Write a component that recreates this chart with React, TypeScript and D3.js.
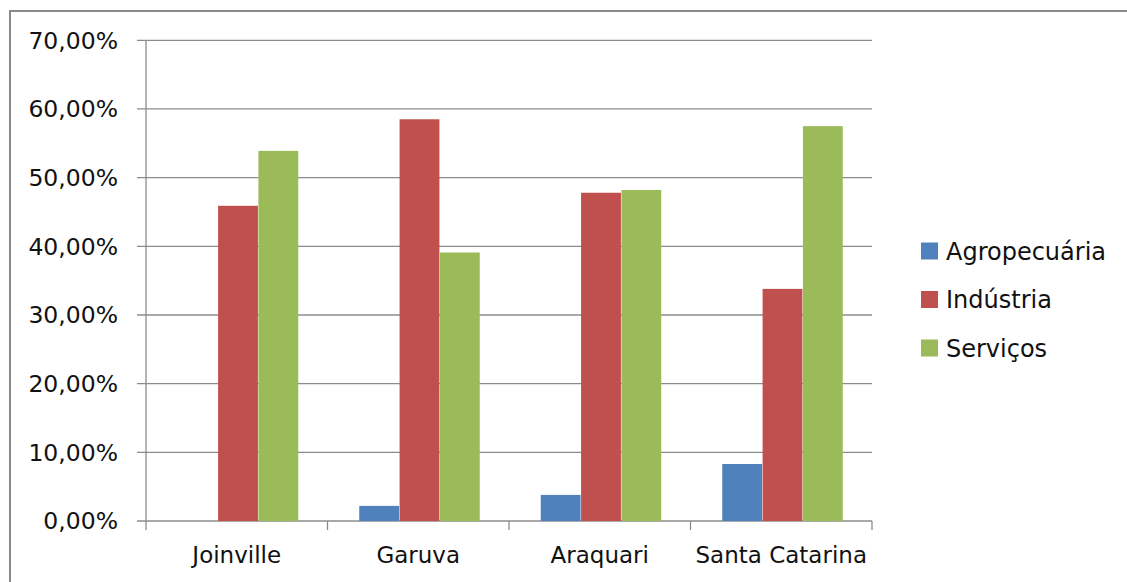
import React from "react";
import * as d3 from "d3";

const categories = ["Joinville", "Garuva", "Araquari", "Santa Catarina"];
const seriesNames = ["Agropecuária", "Indústria", "Serviços"];
const agropecuaria = [0, 2.2, 3.8, 8.3];
const industria = [45.9, 58.5, 47.8, 33.8];
const servicos = [53.9, 39.1, 48.2, 57.5];
const yTicks = [0, 10, 20, 30, 40, 50, 60, 70];
const colors = ["#4F81BD", "#C0504D", "#9BBB59"];

const W = 1127;
const H = 582;
const plot = { left: 146, right: 872, top: 40.3, bottom: 521 };
const font = "'DejaVu Sans', Verdana, sans-serif";

export default function App() {
  const series = [agropecuaria, industria, servicos];
  const x = d3.scaleBand<string>().domain(categories).range([plot.left, plot.right]).paddingInner(0).paddingOuter(0);
  const bw = x.bandwidth() / 4.5;
  const y = d3.scaleLinear().domain([0, 70]).range([plot.bottom, plot.top]);
  const fmt = (v: number) => v.toFixed(2).replace(".", ",") + "%";
  const gridColor = "#8c8c8c";

  return (
    <svg width={W} height={H} style={{ position: "absolute", left: 0, top: 0 }}>
      <rect x={0} y={0} width={W} height={H} fill="#fff" />
      <rect x={10} y={11} width={W + 20} height={H + 20} fill="none" stroke="#8a8a8a" strokeWidth={2} />
      {yTicks.map((t) => (
        <g key={t}>
          <line x1={plot.left - 9} x2={plot.right} y1={y(t)} y2={y(t)} stroke={gridColor} strokeWidth={1.3} />
          <text x={118} y={y(t)} dy="0.36em" textAnchor="end" fontFamily={font} fontSize={23.5} fill="#111">
            {fmt(t)}
          </text>
        </g>
      ))}
      <line x1={plot.left} x2={plot.left} y1={plot.top} y2={plot.bottom} stroke={gridColor} strokeWidth={1.3} />
      {categories.map((c) => (
        <line key={"t" + c} x1={x(c)!} x2={x(c)!} y1={plot.bottom} y2={plot.bottom + 9} stroke={gridColor} strokeWidth={1.3} />
      ))}
      <line x1={plot.right} x2={plot.right} y1={plot.bottom} y2={plot.bottom + 9} stroke={gridColor} strokeWidth={1.3} />
      {categories.map((c, i) =>
        series.map((s, k) => (
          <rect
            key={c + k}
            x={x(c)! + bw * 0.75 + 1.5 + k * bw}
            y={y(s[i])}
            width={bw - 0.5}
            height={plot.bottom - y(s[i])}
            fill={colors[k]}
          />
        ))
      )}
      {categories.map((c) => (
        <text key={"l" + c} x={x(c)! + x.bandwidth() / 2} y={563} textAnchor="middle" fontFamily={font} fontSize={23} fill="#111">
          {c}
        </text>
      ))}
      {seriesNames.map((n, k) => (
        <g key={n} transform={`translate(921, ${251 + k * 48.5})`}>
          <rect x={0} y={-8.5} width={17} height={17} fill={colors[k]} />
          <text x={25} y={0} dy="0.36em" fontFamily={font} fontSize={24} fill="#111">
            {n}
          </text>
        </g>
      ))}
    </svg>
  );
}
